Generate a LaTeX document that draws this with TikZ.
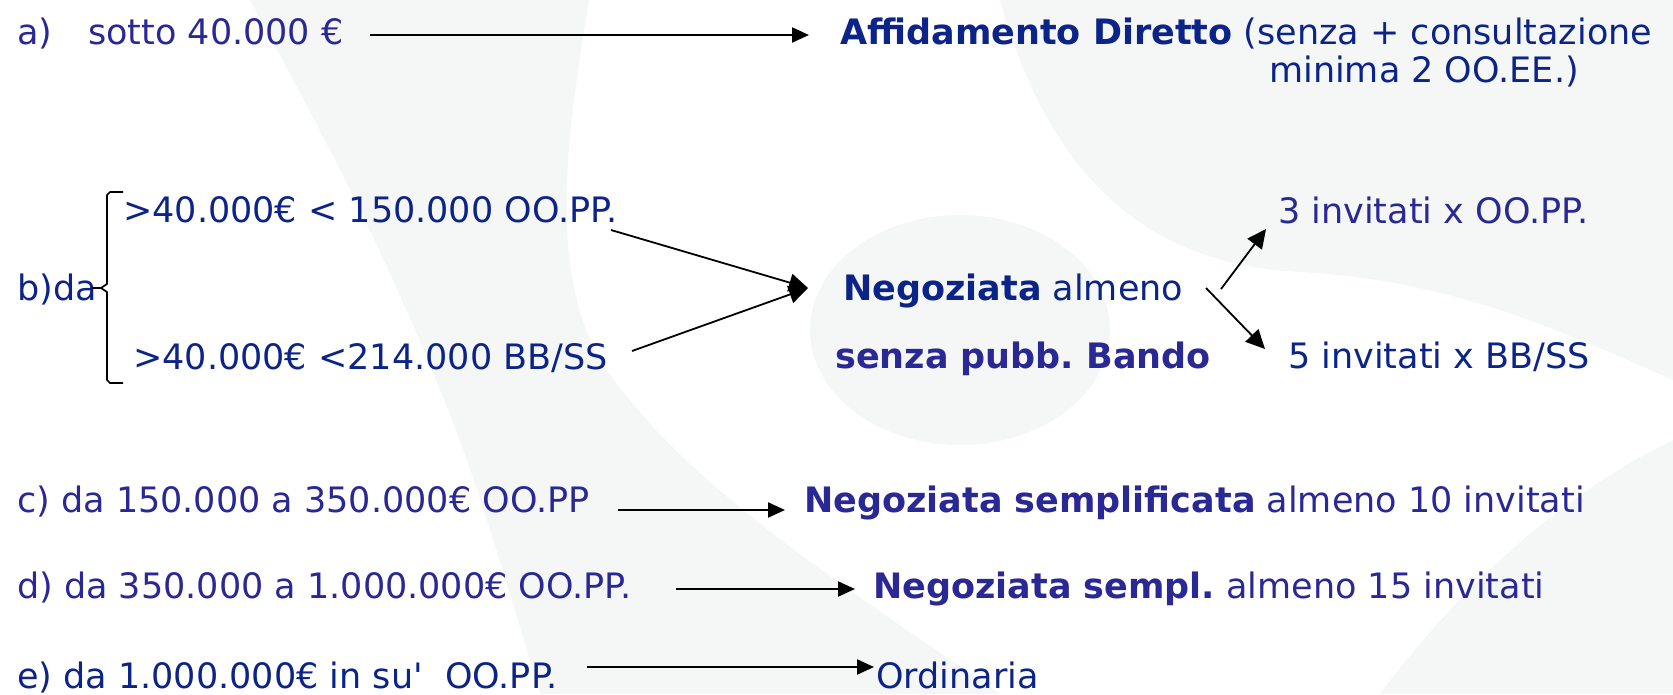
\documentclass[tikz,border=0pt]{standalone}
\usepackage{fontspec}
\setmainfont{DejaVu Sans}
\usetikzlibrary{arrows.meta}
\definecolor{navy}{RGB}{12,36,136}
\definecolor{pblue}{RGB}{42,40,148}
\definecolor{wm}{RGB}{245,247,246}
\tikzset{
  txt/.style={anchor=base west, inner sep=0pt, font=\fontsize{35}{42}\selectfont},
  arr/.style={line width=2.2pt, -{Triangle[length=17pt,width=15pt]}},
  arrthin/.style={line width=1.8pt, -{Triangle[length=19pt,width=18pt]}},
  brace/.style={line width=1.7pt, line join=round}
}
\begin{document}
\frenchspacing
\begin{tikzpicture}[x=1pt,y=-1pt]
\useasboundingbox (0,0) rectangle (1673,694);
% faint watermark
\fill[wm] (250,0) -- (589,0) .. controls (570,120) and (545,260) .. (600,360)
  .. controls (680,480) and (820,570) .. (1000,694) -- (540,694)
  .. controls (500,560) and (470,460) .. (440,390) .. controls (380,240) and (310,110) .. (250,0) -- cycle;
\fill[wm] (960,330) ellipse (150 and 115);
\fill[wm] (1000,0) .. controls (1050,180) and (1150,265) .. (1300,272)
  .. controls (1450,280) and (1560,330) .. (1673,380) -- (1673,0) -- cycle;
\fill[wm] (1673,440) .. controls (1550,500) and (1450,600) .. (1380,694) -- (1673,694) -- cycle;
% row a
\node[txt, pblue] (a1) at (17,44) {a)};
\node[txt, pblue] (a2) at (88,44) {sotto 40.000 €};
\node[txt, navy] (a3) at (840,44) {\textbf{Affidamento Diretto} (senza + consultazione};
\node[txt, navy] (a4) at (1269,82) {minima 2 OO.EE.)};
\coordinate (a2s) at (370,35);
\coordinate (a3e) at (809,35);
\draw[arr] (a2s) -- (a3e);
% row b
\node[txt, navy] (b0) at (17,300) {b)da};
\node[txt, navy] (b1) at (123,222) {>40.000€ < 150.000 OO.PP.};
\node[txt, navy] (b2) at (133,369) {>40.000€ <214.000 BB/SS};
\coordinate (brt) at (123,192);
\coordinate (brb) at (123,383);
\coordinate (brm) at (92,288);
\draw[brace] (brt) -- (110,192) -- (107,195) -- (107,284) -- (101,288) -- (107,292) -- (107,380) -- (110,383) -- (brb);
\draw[brace] (brm) -- (101,288);
\node[txt, navy] (n1) at (843,300) {\textbf{Negoziata} almeno};
\node[txt, pblue] (n2) at (835,368) {\textbf{senza pubb. Bando}};
\node[txt, pblue] (i3) at (1278,223) {3 invitati x OO.PP.};
\node[txt, navy] (i5) at (1288,368) {5 invitati x BB/SS};
\coordinate (b1e) at (611,230);
\coordinate (b2e) at (632,351);
\coordinate (nin) at (808,288);
\draw[arrthin] (b1e) -- (nin);
\draw[arrthin] (b2e) -- (nin);
\coordinate (upS) at (1221,289);
\coordinate (upE) at (1266,229);
\coordinate (dnS) at (1206,288);
\coordinate (dnE) at (1265,349);
\draw[arrthin] (upS) -- (upE);
\draw[arrthin] (dnS) -- (dnE);
% row c
\node[txt, pblue] (c1) at (17,512) {c) da 150.000 a 350.000€ OO.PP};
\node[txt, pblue] (c2) at (804,512) {\textbf{Negoziata semplificata} almeno 10 invitati};
\coordinate (cS) at (618,510);
\coordinate (cE) at (785,510);
\draw[arr] (cS) -- (cE);
% row d
\node[txt, pblue] (d1) at (17,598) {d) da 350.000 a 1.000.000€ OO.PP.};
\node[txt, pblue] (d2) at (873,598) {\textbf{Negoziata sempl.} almeno 15 invitati};
\coordinate (dS) at (676,589);
\coordinate (dE) at (855,589);
\draw[arr] (dS) -- (dE);
% row e
\node[txt, navy] (e1) at (17,688) {e) da 1.000.000€ in su\textquotesingle\ \ OO.PP.};
\node[txt, navy] (e2) at (876,688) {Ordinaria};
\coordinate (eS) at (587,667);
\coordinate (eE) at (874,667);
\draw[arr] (eS) -- (eE);
\end{tikzpicture}
\end{document}
